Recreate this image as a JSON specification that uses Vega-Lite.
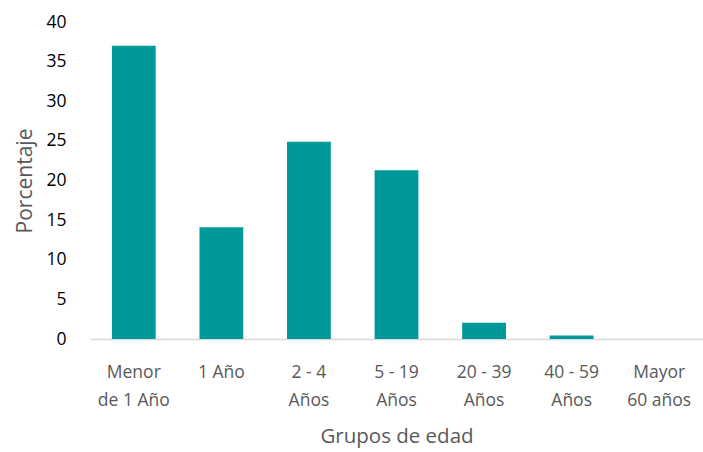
{
  "$schema": "https://vega.github.io/schema/vega-lite/v6.json",
  "autosize": "none",
  "padding": {"left": 90, "top": 22, "right": 0, "bottom": 113},
  "width": 613,
  "height": 317,
  "background": "white",
  "config": {"view": {"stroke": null}, "font": "Open Sans"},
  "data": {"values": [
    {"grupo": "Menor|de 1 Año", "porcentaje": 37.0},
    {"grupo": "1 Año", "porcentaje": 14.1},
    {"grupo": "2 - 4|Años", "porcentaje": 24.9},
    {"grupo": "5 - 19|Años", "porcentaje": 21.3},
    {"grupo": "20 - 39|Años", "porcentaje": 2.05},
    {"grupo": "40 - 59|Años", "porcentaje": 0.45},
    {"grupo": "Mayor|60 años", "porcentaje": 0}
  ]},
  "mark": {"type": "bar", "color": "#009999"},
  "encoding": {
    "x": {
      "field": "grupo", "type": "nominal", "sort": null,
      "scale": {"paddingInner": 0.5, "paddingOuter": 0.25},
      "axis": {
        "title": "Grupos de edad", "titleFont": "Open Sans", "titleFontSize": 20.5, "titleFontWeight": "normal", "titleColor": "#595959", "titlePadding": 18,
        "labelExpr": "split(datum.label, '|')", "labelAngle": 0, "labelFontSize": 17.5, "labelColor": "#595959", "labelPadding": 24, "labelLineHeight": 28,
        "domainColor": "#d9d9d9", "domainWidth": 1.5, "ticks": false
      }
    },
    "y": {
      "field": "porcentaje", "type": "quantitative",
      "scale": {"domain": [0, 40]},
      "axis": {
        "title": "Porcentaje", "titleFont": "Open Sans", "titleFontSize": 21, "titleFontWeight": "normal", "titleColor": "#595959", "titlePadding": 10,
        "values": [0, 5, 10, 15, 20, 25, 30, 35, 40], "labelFontSize": 17.5, "labelColor": "#000000", "labelPadding": 24,
        "domain": false, "ticks": false, "grid": false
      }
    }
  }
}
